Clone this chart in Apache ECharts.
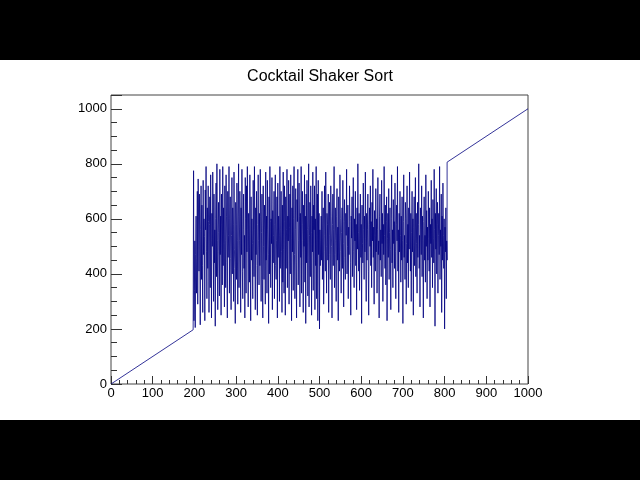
<!DOCTYPE html>
<html>
<head>
<meta charset="utf-8">
<script src="https://cdn.jsdelivr.net/npm/echarts@6/dist/echarts.min.js"></script>
<style>
html,body{margin:0;padding:0;background:#fff;}
#c{width:640px;height:480px;}
</style>
</head>
<body>
<div id="c"></div>
<script>
const chartTitle = "Cocktail Shaker Sort";
const xTicks = [0,100,200,300,400,500,600,700,800,900,1000];
const yTicks = [0,200,400,600,800,1000];
// sorted low part (straight ramp), endpoints
const leftSorted = [[0,0],[197,197]];
// sorted high part (straight ramp)
const rightSorted = [[806,806],[1000,1000]];
// unsorted middle part, one value per index from x = 198 to 806
const midStart = 198;
const midStep = 1;
const midValues = [
775,230,340,520,205,470,610,330,455,700,290,745,610,410,690,520,215,560,720,380,
650,430,260,740,470,600,535,230,705,560,790,480,310,640,420,720,590,260,580,680,
350,760,520,240,620,500,770,640,300,690,440,560,210,600,730,390,800,520,270,550,
660,480,320,780,470,610,250,690,580,360,790,430,640,510,280,720,520,350,760,610,
440,240,700,460,540,790,330,600,680,455,270,540,750,400,640,580,300,770,490,420,
220,660,580,380,730,520,290,610,800,350,520,700,610,260,640,470,780,410,310,560,
690,420,540,240,750,600,330,720,480,790,560,280,620,540,370,760,450,230,680,450,
600,510,310,740,520,390,790,560,270,640,470,700,430,250,580,760,520,360,620,430,
780,610,300,550,690,380,240,720,500,380,650,560,290,770,450,610,330,740,560,470,
220,680,400,790,590,350,600,510,750,270,630,440,540,700,310,580,760,430,380,520,
680,240,730,460,610,540,300,790,420,560,700,480,260,650,370,770,490,330,720,590,
250,680,420,560,780,350,610,520,740,290,570,690,400,760,530,230,640,480,720,340,
600,790,470,310,560,710,440,240,670,590,780,360,520,730,610,280,620,460,790,330,
580,700,520,260,650,500,760,370,610,220,690,440,740,560,320,570,800,280,540,660,
390,720,550,250,610,480,770,340,650,560,720,270,600,430,790,310,540,690,230,740,
470,620,200,560,430,
520,610,450,700,380,560,640,290,480,720,540,410,770,500,330,620,580,450,690,260,
540,660,470,380,720,610,500,240,580,690,430,560,790,350,470,640,520,300,610,710,
450,570,230,680,520,410,760,600,480,330,550,640,420,740,510,280,590,670,460,380,
620,540,780,400,500,650,310,570,470,720,590,440,250,610,530,680,390,560,750,480,
350,600,520,700,430,580,270,640,490,800,550,410,620,340,530,690,460,580,220,650,
510,440,730,560,380,610,480,770,530,300,620,450,560,690,410,250,580,640,500,720,
430,590,350,660,520,780,460,570,290,630,540,410,710,480,600,330,560,750,470,520,
240,610,690,450,560,390,740,510,620,300,580,470,790,540,420,650,360,590,680,230,
530,620,460,710,380,550,640,490,270,600,760,440,560,350,670,510,590,420,730,480,
310,580,650,520,790,410,560,260,620,480,700,540,370,610,450,680,520,220,590,760,
460,540,380,660,600,290,510,720,440,580,350,640,490,770,560,410,620,300,550,700,
480,600,250,570,680,430,530,750,390,620,510,330,660,460,580,800,420,540,280,640,
560,470,720,390,610,520,240,590,680,450,540,370,760,500,630,310,570,450,700,530,
410,640,280,580,510,740,460,600,350,670,530,440,780,560,210,620,490,710,400,580,
660,330,540,620,470,790,380,560,500,690,260,610,450,730,540,420,600,200,570,480,
640,310,520,450
];

const data = [];
leftSorted.forEach(p => data.push(p));
midValues.forEach((v, i) => data.push([midStart + i * midStep, v]));
rightSorted.forEach(p => data.push(p));

const font = "'Liberation Sans', Arial, Helvetica, sans-serif";
const chart = echarts.init(document.getElementById('c'), null, {renderer: 'canvas'});
chart.setOption({
  animation: false,
  backgroundColor: '#fff',
  title: {
    text: chartTitle,
    left: 'center',
    top: 64,
    textStyle: {fontFamily: font, fontSize: 16, fontWeight: 'normal', color: '#000'}
  },
  graphic: [
    {type: 'rect', shape: {x: 0, y: 0, width: 640, height: 60}, style: {fill: '#000'}, z: 100},
    {type: 'rect', shape: {x: 0, y: 420, width: 640, height: 60}, style: {fill: '#000'}, z: 100}
  ],
  grid: {
    left: 111, right: 112, top: 95, bottom: 96,
    show: true, borderColor: '#444', borderWidth: 1, backgroundColor: 'transparent'
  },
  xAxis: {
    type: 'value', min: 0, max: 1000, interval: 100,
    axisLine: {show: false},
    splitLine: {show: false},
    axisTick: {show: true, inside: true, length: 8, lineStyle: {color: '#333', width: 1}},
    minorTick: {show: true, splitNumber: 5, length: 4, lineStyle: {color: '#333', width: 1}},
    axisLabel: {
      margin: 3, fontFamily: font, fontSize: 13, color: '#000',
      formatter: v => xTicks.indexOf(v) >= 0 ? String(v) : ''
    }
  },
  yAxis: {
    type: 'value', min: 0, max: 1050, interval: 200,
    axisLine: {show: false},
    splitLine: {show: false},
    axisTick: {show: true, inside: true, length: 11, lineStyle: {color: '#333', width: 1}},
    minorTick: {show: true, splitNumber: 4, length: 6, lineStyle: {color: '#333', width: 1}},
    axisLabel: {
      margin: 4, fontFamily: font, fontSize: 13, color: '#000',
      formatter: v => yTicks.indexOf(v) >= 0 ? String(v) : ''
    }
  },
  series: [{
    type: 'line',
    data: data,
    symbol: 'none',
    sampling: false,
    lineStyle: {color: '#000080', width: 1, opacity: 0.8},
    silent: true
  }]
});
</script>
</body>
</html>
